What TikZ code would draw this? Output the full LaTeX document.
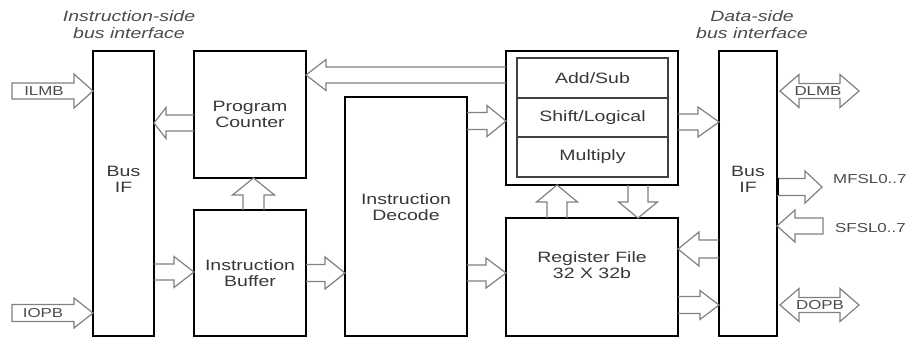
\documentclass[tikz,border=0pt]{standalone}
\usepackage{fontspec}
\setmainfont{Liberation Sans}
\newfontfamily\labfont[FakeStretch=1.3]{Liberation Sans}
\usetikzlibrary{calc}
\tikzset{
  box/.style={draw=black, line width=1.8pt, outer sep=0pt, inner sep=0pt, anchor=north west},
  rowbox/.style={draw=black!75, line width=1.2pt, outer sep=0pt, inner sep=0pt, anchor=north west,
    font=\labfont\fontsize{15}{16}\selectfont, text=black!78},
  fat/.style={draw=black!50, line width=1.2pt, line join=miter},
  txt/.style={font=\labfont\fontsize{15}{16}\selectfont, text=black!78, align=center, inner sep=0pt},
  small/.style={font=\labfont\fontsize{13}{15}\selectfont, text=black!70, inner sep=0pt},
  heading/.style={font=\labfont\itshape\fontsize{15}{17}\selectfont, text=black!70, align=center, inner sep=0pt},
}
% horizontal block arrow: from anchor, to anchor, y, half shaft, half head, head length, tail
\newcommand\harrow[7]{%
  \draw[fat] let \p1=(#1), \p2=(#2), \p3=(0,#3),
    \n1={atan2(0,\x2-\x1)}, \n2={abs(\x2-\x1)} in
    [shift={(\x1,\y3)}, rotate=\n1]
    (0,#4) -- (\n2-#6,#4) -- (\n2-#6,#5) -- (\n2,0) -- (\n2-#6,-#5) -- (\n2-#6,-#4) -- (0,-#4) #7;}
% vertical block arrow: from anchor, to anchor, x, half shaft, half head, head length
\newcommand\varrow[6]{%
  \draw[fat] let \p1=(#1), \p2=(#2), \p3=(#3,0),
    \n1={atan2(\y2-\y1,0)}, \n2={abs(\y2-\y1)} in
    [shift={(\x3,\y1)}, rotate=\n1]
    (0,#4) -- (\n2-#6,#4) -- (\n2-#6,#5) -- (\n2,0) -- (\n2-#6,-#5) -- (\n2-#6,-#4) -- (0,-#4);}
% double-headed block arrow between two coordinates on one level
\newcommand\dharrow[5]{%
  \draw[fat] let \p1=(#1), \p2=(#2), \n2={abs(\x2-\x1)} in
    [shift={(\p1)}]
    (0,0) -- (#5,-#4) -- (#5,-#3) -- (\n2-#5,-#3) -- (\n2-#5,-#4) -- (\n2,0)
    -- (\n2-#5,#4) -- (\n2-#5,#3) -- (#5,#3) -- (#5,#4) -- cycle;}
\begin{document}
\begin{tikzpicture}[x=1pt, y=-1pt]
\useasboundingbox (0,0) rectangle (912,338);

% headings
\node[heading] (hI) at (129,25) {Instruction-side\\bus interface};
\node[heading] (hD) at (752,25) {Data-side\\bus interface};

% boxes
\node[box, minimum width=61pt, minimum height=285pt] (busL) at (93,51) {};
\node[box, minimum width=112pt, minimum height=127pt] (pc) at (194,51) {};
\node[box, minimum width=112pt, minimum height=126pt] (ib) at (194,210) {};
\node[box, minimum width=122pt, minimum height=239pt] (dec) at (345,97) {};
\node[box, minimum width=172pt, minimum height=134pt] (alu) at (506,51) {};
\node[rowbox, minimum width=151pt, minimum height=40pt] (add) at (517,58) {Add/Sub};
\node[rowbox, minimum width=151pt, minimum height=39pt] (sl) at (517,98) {Shift/Logical};
\node[rowbox, minimum width=151pt, minimum height=40pt] (mul) at (517,137) {Multiply};
\node[box, minimum width=172pt, minimum height=118pt] (rf) at (506,218) {};
\node[box, minimum width=58pt, minimum height=285pt] (busR) at (719,51) {};

% box texts
\node[txt] (tBusL) at (123.5,179) {Bus\\IF};
\node[txt] (tPC) at (pc.center) {Program\\Counter};
\node[txt] (tIB) at (ib.center) {Instruction\\Buffer};
\node[txt] (tDec) at (406,207) {Instruction\\Decode};
\node[txt] (tRF) at (592,265) {Register File\\32 X 32b};
\node[txt] (tBusR) at (748,179) {Bus\\IF};

% free ends
\coordinate (ilmbT) at (12,91);
\coordinate (iopbT) at (12,313);
\coordinate (mfslT) at (822,187);
\coordinate (sfslT) at (823,226);
\coordinate (dlA) at (780,91);
\coordinate (dlB) at (859,91);
\coordinate (doA) at (780,305);
\coordinate (doB) at (859,305);

% block arrows
\harrow{ilmbT}{busL.west}{91}{8}{17}{19}{-- cycle}
\harrow{iopbT}{busL.west}{313}{8.5}{15}{19}{-- cycle}
\harrow{pc.west}{busL.east}{123}{8}{15.5}{12}{}
\harrow{busL.east}{ib.west}{272}{8}{15.5}{20}{}
\varrow{ib.north}{pc.south}{253.5}{10.5}{21}{17}
\harrow{alu.west}{pc.east}{75}{8}{15.5}{20}{}
\harrow{dec.east}{alu.west}{121}{8.5}{15.5}{19}{}
\harrow{ib.east}{dec.west}{273}{8.5}{16}{20}{}
\harrow{dec.east}{rf.west}{273}{8}{15}{20}{}
\varrow{rf.north}{alu.south}{557}{10}{20.5}{17}
\varrow{alu.south}{rf.north}{638}{10}{19.5}{16}
\harrow{alu.east}{busR.west}{122}{8}{15}{21}{}
\harrow{busR.east}{mfslT}{187}{8.5}{16}{17}{}
\harrow{sfslT}{busR.east}{226}{8}{16}{18}{-- cycle}
\harrow{busR.west}{rf.east}{249}{9}{17}{21}{}
\harrow{rf.east}{busR.west}{305}{8.5}{14.5}{19}{}
\dharrow{dlA}{dlB}{7.5}{16.5}{19}
\dharrow{doA}{doB}{7.5}{16.5}{19}
\draw[line width=2.6pt] let \p1=(busR.east), \p2=(0,178), \p3=(0,195) in (\x1+1pt,\y2) -- (\x1+1pt,\y3);

% arrow labels
\node[small] (lILMB) at (44,91) {ILMB};
\node[small] (lIOPB) at (43,313) {IOPB};
\node[small] (lDLMB) at (818,91) {DLMB};
\node[small] (lDOPB) at (820,305) {DOPB};
\node[small, anchor=west] (lMFSL) at (833,179) {MFSL0..7};
\node[small, anchor=west] (lSFSL) at (835,228) {SFSL0..7};
\end{tikzpicture}
\end{document}
